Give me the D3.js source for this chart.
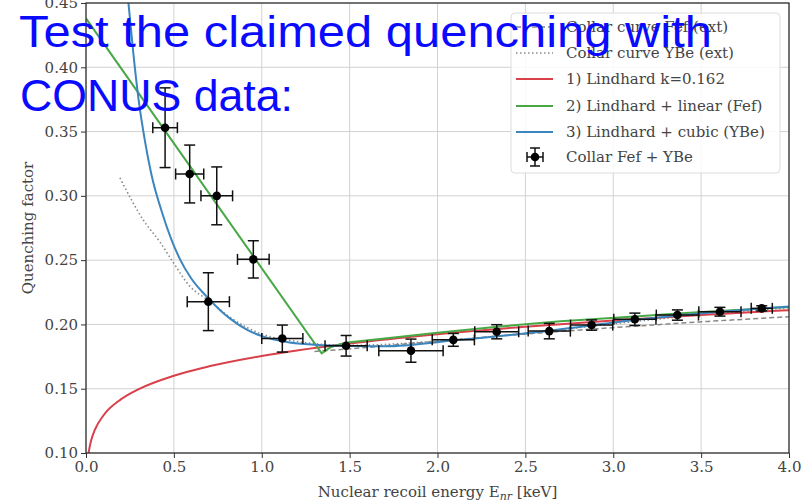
<!DOCTYPE html>
<html>
<head>
<meta charset="utf-8">
<script src="https://cdn.jsdelivr.net/npm/d3@7"></script>
<style>
  body { margin: 0; background: #fff; }
  svg { display: block; }
</style>
</head>
<body>
<div id="chart"></div>
<script>
// tick labels
const xTicks = [0.0, 0.5, 1.0, 1.5, 2.0, 2.5, 3.0, 3.5, 4.0];
const yTicks = [0.10, 0.15, 0.20, 0.25, 0.30, 0.35, 0.40, 0.45];

// Collar Fef + YBe data points
const ptE    = [0.45, 0.59, 0.744, 0.952, 0.696, 1.117, 1.48, 1.849, 2.09, 2.337, 2.636, 2.877, 3.123, 3.365, 3.607, 3.845];
const ptQ    = [0.353, 0.317, 0.300, 0.2506, 0.2177, 0.189, 0.1834, 0.1796, 0.188, 0.1943, 0.1948, 0.1995, 0.204, 0.2073, 0.2099, 0.2125];
const ptQerr = [0.031, 0.0225, 0.0225, 0.0145, 0.0225, 0.0105, 0.008, 0.009, 0.005, 0.0055, 0.006, 0.004, 0.0048, 0.004, 0.0034, 0.002];
const ptEerr = [0.07, 0.08, 0.09, 0.09, 0.12, 0.117, 0.12, 0.183, 0.12, 0.125, 0.12, 0.12, 0.12, 0.12, 0.12, 0.06];

// curves, [E, Q]
const lindhard = [[0.004,0.085],[0.01,0.0946],[0.02,0.1042],[0.03,0.1101],[0.05,0.1179],[0.1,0.1294],[0.2,0.1419],
  [0.3,0.1497],[0.5,0.1601],[0.7,0.1674],[1.0,0.1755],[1.2,0.1798],[1.5,0.1852],[2.0,0.1924],[2.5,0.1982],
  [3.0,0.2031],[3.5,0.2074],[4.0,0.2111]];
const linearFef = [[0.0,0.438],[1.341,0.1775],[1.39,0.1822],[1.45,0.1848],[1.5,0.1862],[1.7,0.189],[2.0,0.1935],
  [2.34,0.1982],[2.7,0.2025],[3.12,0.2062],[3.5,0.2097],[4.0,0.2135]];
const cubicYBe = [[0.24,0.452],[0.27,0.41],[0.30,0.374],[0.335,0.343],[0.37,0.318],[0.44,0.284],[0.53,0.252],
  [0.60,0.2355],[0.687,0.2216],[0.76,0.2115],[0.82,0.2045],[0.92,0.1955],[1.01,0.1905],[1.15,0.1862],[1.3,0.1842],
  [1.5,0.1832],[1.7,0.183],[2.09,0.1875],[2.636,0.1951],[3.12,0.2034],[3.607,0.2099],[4.0,0.214]];
const collarFef = [[1.3,0.179],[1.5,0.181],[2.0,0.187],[2.5,0.1925],[3.0,0.1975],[3.5,0.202],[4.0,0.206]];
const collarYBe = [[0.193,0.314],[0.326,0.2812],[0.421,0.264],[0.488,0.250],[0.592,0.2295],[0.7,0.2185],
  [0.82,0.2055],[1.0,0.1925],[1.2,0.1868],[1.5,0.1837],[2.0,0.187],[2.5,0.193],[3.0,0.2005],[3.5,0.2075],[4.0,0.213]];

const legendNames = ["Collar curve Fef (ext)", "Collar curve YBe (ext)", "1) Lindhard k=0.162",
  "2) Lindhard + linear (Fef)", "3) Lindhard + cubic (YBe)", "Collar Fef + YBe"];

const W = 803, H = 503;
const m = { left: 86, right: 789, top: 3, bottom: 453 };
const serif = "DejaVu Serif";
const textCol = "#444";

const svg = d3.select("#chart").append("svg").attr("width", W).attr("height", H);

const x = d3.scaleLinear().domain([0, 4]).range([m.left, m.right]);
const y = d3.scaleLinear().domain([0.10, 0.45]).range([m.bottom, m.top]);

// grid
svg.append("g").selectAll("line").data(xTicks).join("line")
  .attr("x1", d => x(d)).attr("x2", d => x(d)).attr("y1", m.top).attr("y2", m.bottom)
  .attr("stroke", "#d2d2d2").attr("stroke-width", 1);
svg.append("g").selectAll("line").data(yTicks).join("line")
  .attr("x1", m.left).attr("x2", m.right).attr("y1", d => y(d)).attr("y2", d => y(d))
  .attr("stroke", "#d2d2d2").attr("stroke-width", 1);

// axes
const xAxis = svg.append("g").attr("transform", `translate(0,${m.bottom})`)
  .call(d3.axisBottom(x).tickValues(xTicks).tickFormat(d3.format(".1f")).tickSize(5).tickPadding(3));
const yAxis = svg.append("g").attr("transform", `translate(${m.left},0)`)
  .call(d3.axisLeft(y).tickValues(yTicks).tickFormat(d3.format(".2f")).tickSize(5).tickPadding(3));
[xAxis, yAxis].forEach(g => {
  g.select(".domain").remove();
  g.selectAll("line").attr("stroke", "#333");
  g.selectAll("text").attr("font-family", serif).attr("font-size", 15).attr("fill", textCol);
});

// clip for curves
svg.append("clipPath").attr("id", "plotclip").append("rect")
  .attr("x", m.left).attr("y", m.top).attr("width", m.right - m.left).attr("height", m.bottom - m.top);

const plot = svg.append("g").attr("clip-path", "url(#plotclip)");

const smooth = d3.line().x(d => x(d[0])).y(d => y(d[1])).curve(d3.curveMonotoneX);
const straight = d3.line().x(d => x(d[0])).y(d => y(d[1]));

plot.append("path").attr("d", smooth(collarFef)).attr("fill", "none")
  .attr("stroke", "#888").attr("stroke-width", 1.5).attr("stroke-dasharray", "5,3");
plot.append("path").attr("d", smooth(collarYBe)).attr("fill", "none")
  .attr("stroke", "#8a8a8a").attr("stroke-width", 1.6).attr("stroke-dasharray", "1.5,2.5");
plot.append("path").attr("d", smooth(lindhard)).attr("fill", "none")
  .attr("stroke", "#d9404a").attr("stroke-width", 2);
plot.append("path").attr("d", straight(linearFef)).attr("fill", "none")
  .attr("stroke", "#48a845").attr("stroke-width", 2);
plot.append("path").attr("d", smooth(cubicYBe)).attr("fill", "none")
  .attr("stroke", "#3b86bf").attr("stroke-width", 2);

// error bars
const pts = ptE.map((e, i) => ({ e: e, q: ptQ[i], dq: ptQerr[i], de: ptEerr[i] }));
const cap = 5.5;
const eb = plot.append("g").attr("stroke", "#111").attr("stroke-width", 1.5);
pts.forEach(p => {
  const g = eb.append("g");
  g.append("line").attr("x1", x(p.e - p.de)).attr("x2", x(p.e + p.de)).attr("y1", y(p.q)).attr("y2", y(p.q));
  g.append("line").attr("x1", x(p.e)).attr("x2", x(p.e)).attr("y1", y(p.q - p.dq)).attr("y2", y(p.q + p.dq));
  [p.q - p.dq, p.q + p.dq].forEach(v => g.append("line")
    .attr("x1", x(p.e) - cap).attr("x2", x(p.e) + cap).attr("y1", y(v)).attr("y2", y(v)));
  [p.e - p.de, p.e + p.de].forEach(v => g.append("line")
    .attr("x1", x(v)).attr("x2", x(v)).attr("y1", y(p.q) - cap).attr("y2", y(p.q) + cap));
});
plot.append("g").selectAll("circle").data(pts).join("circle")
  .attr("cx", d => x(d.e)).attr("cy", d => y(d.q)).attr("r", 4.3).attr("fill", "#000");

// frame
svg.append("rect").attr("x", m.left).attr("y", m.top).attr("width", m.right - m.left).attr("height", m.bottom - m.top)
  .attr("fill", "none").attr("stroke", "#333").attr("stroke-width", 1.3);

// axis labels
const xl = svg.append("text").attr("x", (m.left + m.right) / 2).attr("y", 497).attr("text-anchor", "middle")
  .attr("font-family", serif).attr("font-size", 15).attr("fill", textCol);
xl.append("tspan").text("Nuclear recoil energy E");
xl.append("tspan").attr("font-size", 11).attr("font-style", "italic").attr("dy", 3).text("nr");
xl.append("tspan").attr("dy", -3).text(" [keV]");

svg.append("text").attr("transform", `translate(33,228) rotate(-90)`).attr("text-anchor", "middle")
  .attr("font-family", serif).attr("font-size", 15).attr("fill", textCol).text("Quenching factor");

// legend
const lg = svg.append("g");
lg.append("rect").attr("x", 511).attr("y", 13).attr("width", 269).attr("height", 160).attr("rx", 4)
  .attr("fill", "#fff").attr("fill-opacity", 0.85).attr("stroke", "#dcdcdc");
const rowY = [27, 53, 79, 106, 132, 157];
const styles = [
  { c: "#888", w: 1.5, dash: "5,3" },
  { c: "#8a8a8a", w: 1.6, dash: "1.5,2.5" },
  { c: "#d9404a", w: 2, dash: null },
  { c: "#48a845", w: 2, dash: null },
  { c: "#3b86bf", w: 2, dash: null }
];
legendNames.forEach((name, i) => {
  const yy = rowY[i];
  if (i < 5) {
    lg.append("line").attr("x1", 516).attr("x2", 553).attr("y1", yy).attr("y2", yy)
      .attr("stroke", styles[i].c).attr("stroke-width", styles[i].w)
      .attr("stroke-dasharray", styles[i].dash);
  } else {
    const mk = lg.append("g").attr("stroke", "#111").attr("stroke-width", 1.5);
    mk.append("line").attr("x1", 527).attr("x2", 543).attr("y1", yy).attr("y2", yy);
    mk.append("line").attr("x1", 535).attr("x2", 535).attr("y1", yy - 9).attr("y2", yy + 9);
    mk.append("line").attr("x1", 530).attr("x2", 540).attr("y1", yy - 9).attr("y2", yy - 9);
    mk.append("line").attr("x1", 530).attr("x2", 540).attr("y1", yy + 9).attr("y2", yy + 9);
    mk.append("line").attr("x1", 527).attr("x2", 527).attr("y1", yy - 5).attr("y2", yy + 5);
    mk.append("line").attr("x1", 543).attr("x2", 543).attr("y1", yy - 5).attr("y2", yy + 5);
    lg.append("circle").attr("cx", 535).attr("cy", yy).attr("r", 4.3).attr("fill", "#000");
  }
  lg.append("text").attr("x", 566).attr("y", yy + 5).attr("font-family", serif).attr("font-size", 15)
    .attr("fill", textCol).text(name);
});

// slide title overlay
svg.append("text").attr("x", 19).attr("y", 47).attr("font-family", "Liberation Sans").attr("font-size", 45)
  .attr("fill", "#0a0aff").attr("textLength", 693).attr("lengthAdjust", "spacingAndGlyphs")
  .text("Test the claimed quenching with");
svg.append("text").attr("x", 20).attr("y", 111).attr("font-family", "Liberation Sans").attr("font-size", 45)
  .attr("fill", "#0a0aff").attr("textLength", 273).attr("lengthAdjust", "spacingAndGlyphs")
  .text("CONUS data:");
</script>
</body>
</html>
